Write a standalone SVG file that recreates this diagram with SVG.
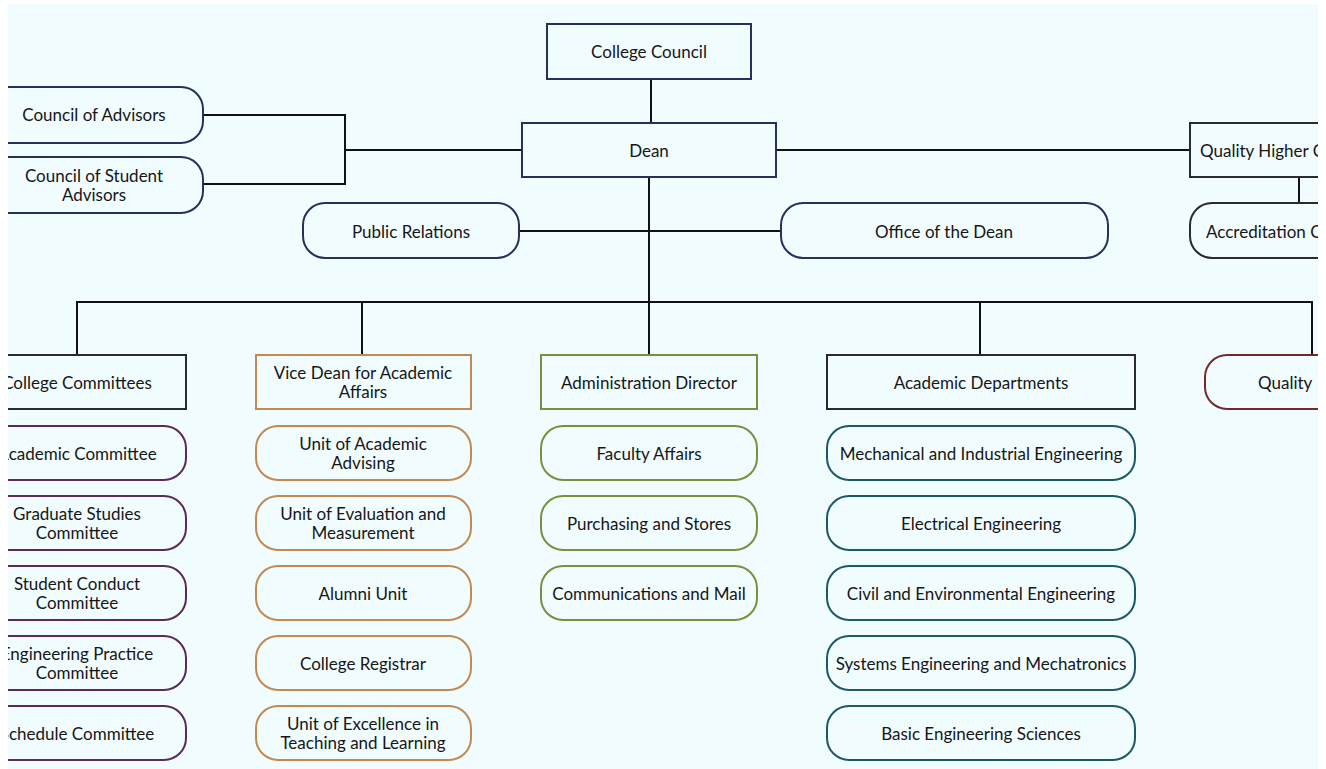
<svg xmlns="http://www.w3.org/2000/svg" width="1326" height="769" viewBox="0 0 1326 769">
<defs>
<clipPath id="vp"><rect x="8" y="4" width="1310" height="765"/></clipPath>
<style>
text{font-family:Lato,"Open Sans","Liberation Sans",sans-serif;font-size:17px;fill:#161616;text-anchor:middle;dominant-baseline:central}
text.s{text-anchor:start}
.b{fill:#f1fcff;stroke-width:2}
.navy{stroke:#26305c}
.dark{stroke:#2b2b2b}
.org{stroke:#c28a52}
.grn{stroke:#76923f}
.teal{stroke:#1d5864}
.pur{stroke:#5b2a5b}
.red{stroke:#752a2a}
.ln{fill:none;stroke:#111;stroke-width:2}
</style>
</defs>
<rect width="1326" height="769" fill="#ffffff"/>
<rect x="8" y="4" width="1310" height="765" fill="#f1fcff"/>
<g clip-path="url(#vp)">
<g id="connectors">
<path class="ln" d="M651 79V123"/>
<path class="ln" d="M203 115H345V184H203M345 150H522"/>
<path class="ln" d="M776 150H1190"/>
<path class="ln" d="M1299 177V203"/>
<path class="ln" d="M519 231H781"/>
<path class="ln" d="M649 177V355"/>
<path class="ln" d="M77 355V302H1312V355M362 302V355M980 302V355"/>
</g>
<g id="college-council"><rect class="b navy" x="547" y="24" width="204" height="55"/><text x="649" y="51">College Council</text></g>
<g id="dean"><rect class="b navy" x="522" y="123" width="254" height="54"/><text x="649" y="150">Dean</text></g>
<g id="council-advisors"><rect class="b navy" x="-40" y="87" width="243" height="56" rx="22"/><text x="94" y="114">Council of Advisors</text></g>
<g id="council-student-advisors"><rect class="b navy" x="-40" y="157" width="243" height="56" rx="22"/><text x="94" y="175">Council of Student</text><text x="94" y="194">Advisors</text></g>
<g id="public-relations"><rect class="b navy" x="303" y="203" width="216" height="55" rx="22"/><text x="411" y="231">Public Relations</text></g>
<g id="office-dean"><rect class="b navy" x="781" y="203" width="327" height="55" rx="22"/><text x="944" y="231">Office of the Dean</text></g>
<g id="quality-higher"><rect class="b dark" x="1190" y="123" width="220" height="54"/><text class="s" x="1200" y="150">Quality Higher C</text></g>
<g id="accreditation"><rect class="b dark" x="1190" y="203" width="220" height="55" rx="22"/><text class="s" x="1206" y="231">Accreditation C</text></g>

<g id="college-committees"><rect class="b dark" x="-40" y="355" width="226" height="54"/><text x="77" y="382">College Committees</text></g>
<g id="academic-committee"><rect class="b pur" x="-40" y="426" width="226" height="54" rx="22"/><text x="77" y="453">Academic Committee</text></g>
<g id="graduate-studies"><rect class="b pur" x="-40" y="496" width="226" height="54" rx="22"/><text x="77" y="513">Graduate Studies</text><text x="77" y="532">Committee</text></g>
<g id="student-conduct"><rect class="b pur" x="-40" y="566" width="226" height="54" rx="22"/><text x="77" y="583">Student Conduct</text><text x="77" y="602">Committee</text></g>
<g id="engineering-practice"><rect class="b pur" x="-40" y="636" width="226" height="54" rx="22"/><text x="77" y="653">Engineering Practice</text><text x="77" y="672">Committee</text></g>
<g id="schedule-committee"><rect class="b pur" x="-40" y="706" width="226" height="54" rx="22"/><text x="77" y="733">Schedule Committee</text></g>

<g id="vice-dean"><rect class="b org" x="256" y="355" width="215" height="54"/><text x="363" y="372">Vice Dean for Academic</text><text x="363" y="391">Affairs</text></g>
<g id="academic-advising"><rect class="b org" x="256" y="426" width="215" height="54" rx="22"/><text x="363" y="443">Unit of Academic</text><text x="363" y="462">Advising</text></g>
<g id="evaluation"><rect class="b org" x="256" y="496" width="215" height="54" rx="22"/><text x="363" y="513">Unit of Evaluation and</text><text x="363" y="532">Measurement</text></g>
<g id="alumni"><rect class="b org" x="256" y="566" width="215" height="54" rx="22"/><text x="363" y="593">Alumni Unit</text></g>
<g id="registrar"><rect class="b org" x="256" y="636" width="215" height="54" rx="22"/><text x="363" y="663">College Registrar</text></g>
<g id="excellence"><rect class="b org" x="256" y="706" width="215" height="54" rx="22"/><text x="363" y="723">Unit of Excellence in</text><text x="363" y="742">Teaching and Learning</text></g>

<g id="admin-director"><rect class="b grn" x="541" y="355" width="216" height="54"/><text x="649" y="382">Administration Director</text></g>
<g id="faculty-affairs"><rect class="b grn" x="541" y="426" width="216" height="54" rx="22"/><text x="649" y="453">Faculty Affairs</text></g>
<g id="purchasing"><rect class="b grn" x="541" y="496" width="216" height="54" rx="22"/><text x="649" y="523">Purchasing and Stores</text></g>
<g id="communications"><rect class="b grn" x="541" y="566" width="216" height="54" rx="22"/><text x="649" y="593">Communications and Mail</text></g>

<g id="academic-departments"><rect class="b dark" x="827" y="355" width="308" height="54"/><text x="981" y="382">Academic Departments</text></g>
<g id="mechanical"><rect class="b teal" x="827" y="426" width="308" height="54" rx="22"/><text x="981" y="453">Mechanical and Industrial Engineering</text></g>
<g id="electrical"><rect class="b teal" x="827" y="496" width="308" height="54" rx="22"/><text x="981" y="523">Electrical Engineering</text></g>
<g id="civil"><rect class="b teal" x="827" y="566" width="308" height="54" rx="22"/><text x="981" y="593">Civil and Environmental Engineering</text></g>
<g id="systems"><rect class="b teal" x="827" y="636" width="308" height="54" rx="22"/><text x="981" y="663">Systems Engineering and Mechatronics</text></g>
<g id="basic"><rect class="b teal" x="827" y="706" width="308" height="54" rx="22"/><text x="981" y="733">Basic Engineering Sciences</text></g>

<g id="quality"><rect class="b red" x="1205" y="355" width="215" height="54" rx="22"/><text class="s" x="1258" y="382">Quality</text></g>
</g>
</svg>
